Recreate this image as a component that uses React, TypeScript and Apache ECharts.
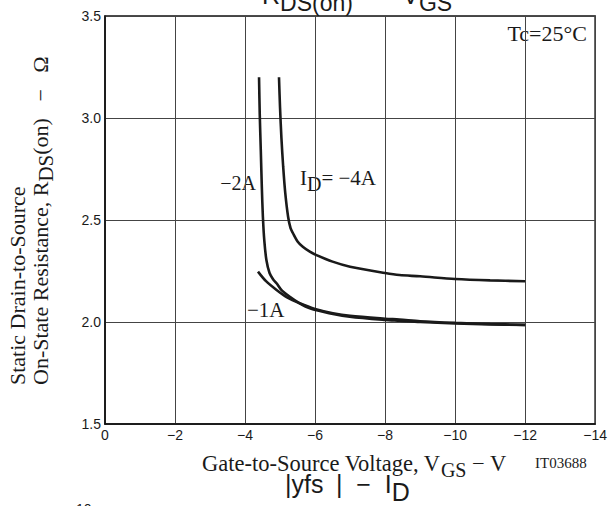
import React, { useEffect, useRef } from "react";
import * as echarts from "echarts";

const vgsTicks = [0, -2, -4, -6, -8, -10, -12, -14];
const rdsTicks = [1.5, 2.0, 2.5, 3.0, 3.5];

const vgs4A = [-4.97, -5.0, -5.04, -5.09, -5.15, -5.23, -5.3, -5.37, -5.5, -5.65, -5.85, -6.04, -6.5, -7.0, -8.0, -8.41, -9.0, -10.0, -11.0, -12.0];
const rds4A = [3.2, 3.05, 2.9, 2.76, 2.63, 2.516, 2.46, 2.435, 2.395, 2.369, 2.345, 2.328, 2.296, 2.271, 2.24, 2.23, 2.224, 2.211, 2.204, 2.2];

const vgs2A = [-4.4, -4.42, -4.45, -4.48, -4.51, -4.55, -4.61, -4.7, -4.8, -4.9, -5.05, -5.28, -5.55, -5.85, -6.4, -6.99, -8.0, -8.41, -9.0, -10.0, -11.0, -12.0];
const rds2A = [3.2, 3.02, 2.843, 2.66, 2.516, 2.4, 2.304, 2.24, 2.21, 2.19, 2.155, 2.124, 2.093, 2.067, 2.043, 2.026, 2.01, 2.006, 2.0, 1.993, 1.988, 1.985];

const vgs1A = [-4.37, -4.6, -4.9, -5.2, -5.56, -6.0, -6.51, -7.0, -8.0, -8.41, -9.0, -10.0, -11.0, -12.0];
const rds1A = [2.247, 2.2, 2.157, 2.121, 2.092, 2.064, 2.043, 2.03, 2.016, 2.012, 2.004, 1.996, 1.99, 1.986];

const curves = [
  { name: "ID=-4A", x: vgs4A, y: rds4A },
  { name: "ID=-2A", x: vgs2A, y: rds2A },
  { name: "ID=-1A", x: vgs1A, y: rds1A },
];

const SERIF = "'Liberation Serif', 'Times New Roman', serif";
const SANS = "'Liberation Sans', Arial, sans-serif";
const INK = "#1a1a1a";

const minus = (v: number) => (v === 0 ? "0" : v < 0 ? "\u2212" + Math.abs(v) : String(v));

// rich styles: main text top-aligned, subscript lowered by `drop` px
const richSub = (family: string, size: number, subSize: number, drop: number) => ({
  m: { fontFamily: family, fontSize: size, verticalAlign: "top", fill: INK },
  s: {
    fontFamily: family,
    fontSize: subSize,
    padding: [Math.max(0, drop - subSize / 2 + size / 2), 0, 0, 0],
    verticalAlign: "bottom",
    fill: INK,
  },
});

export default function App() {
  const ref = useRef<HTMLDivElement>(null);
  useEffect(() => {
    if (!ref.current) return;
    const chart = echarts.init(ref.current, null, { renderer: "svg" });
    chart.setOption({
      animation: false,
      backgroundColor: "#fff",
      grid: {
        left: 105,
        right: 14,
        top: 16,
        bottom: 82,
        show: true,
        borderColor: "#111",
        borderWidth: 1.5,
        backgroundColor: "transparent",
      },
      xAxis: {
        type: "value",
        min: -14,
        max: 0,
        interval: 2,
        inverse: true,
        axisLine: { show: true, lineStyle: { color: "#111", width: 1.5 } },
        axisTick: { show: false },
        splitLine: { show: true, lineStyle: { color: "#444", width: 1 } },
        axisLabel: {
          color: INK,
          fontFamily: SANS,
          fontSize: 14,
          margin: 4,
          showMinLabel: true,
          showMaxLabel: true,
          formatter: (v: number) => (vgsTicks.includes(v) ? minus(v) : ""),
        },
      },
      yAxis: {
        type: "value",
        min: 1.5,
        max: 3.5,
        interval: 0.5,
        axisLine: { show: true, lineStyle: { color: "#111", width: 1.5 } },
        axisTick: { show: false },
        splitLine: { show: true, lineStyle: { color: "#444", width: 1 } },
        axisLabel: {
          color: INK,
          fontFamily: SANS,
          fontSize: 14,
          margin: 4,
          showMinLabel: true,
          showMaxLabel: true,
          formatter: (v: number) => (rdsTicks.some((t) => Math.abs(t - v) < 1e-6) ? v.toFixed(1) : ""),
        },
      },
      series: curves.map((c) => ({
        name: c.name,
        type: "line",
        data: c.x.map((x, i) => [x, c.y[i]]),
        showSymbol: false,
        smooth: 0.3,
        lineStyle: { color: INK, width: 2.6 },
        z: 5,
      })),
      graphic: [
        {
          type: "text",
          x: 262,
          y: -18,
          style: {
            text: "{m|R}{s|DS(on)}{m|  \u2212   V}{s|GS}",
            align: "left",
            verticalAlign: "top",
            rich: richSub(SANS, 25, 23, 8),
          },
        },
        {
          type: "text",
          x: 17,
          y: 385,
          rotation: Math.PI / 2,
          style: {
            text: "Static Drain-to-Source",
            fontFamily: SERIF,
            fontSize: 22,
            fill: INK,
            align: "left",
            verticalAlign: "middle",
          },
        },
        {
          type: "text",
          x: 29,
          y: 385,
          rotation: Math.PI / 2,
          style: {
            text: "{m|On-State Resistance, R}{s|DS}{m|(on)   \u2212   \u03a9}",
            align: "left",
            verticalAlign: "top",
            rich: richSub(SERIF, 22, 21, 6),
          },
        },
        {
          type: "text",
          x: 202,
          y: 452,
          style: {
            text: "{m|Gate-to-Source Voltage, V}{s|GS}{m| \u2212 V}",
            align: "left",
            verticalAlign: "top",
            rich: richSub(SERIF, 22.5, 20, 7),
          },
        },
        {
          type: "text",
          x: 535,
          y: 463,
          style: { text: "IT03688", fontFamily: SERIF, fontSize: 15, fill: INK, align: "left", verticalAlign: "middle" },
        },
        {
          type: "text",
          x: 285,
          y: 471,
          style: {
            text: "{m||yfs\u2002|  \u2212  I}{s|D}",
            align: "left",
            verticalAlign: "top",
            rich: richSub(SANS, 25, 25, 8),
          },
        },
        {
          type: "text",
          x: 76,
          y: 502,
          style: { text: "10", fontFamily: SANS, fontSize: 14, fill: INK, align: "left", verticalAlign: "top" },
        },
        {
          type: "text",
          x: 587,
          y: 33,
          style: { text: "Tc=25\u00b0C", fontFamily: SERIF, fontSize: 22, fill: INK, align: "right", verticalAlign: "middle" },
        },
        {
          type: "text",
          x: 256,
          y: 183,
          style: { text: "\u22122A", fontFamily: SERIF, fontSize: 20, fill: INK, align: "right", verticalAlign: "middle" },
        },
        {
          type: "text",
          x: 300,
          y: 167,
          style: {
            text: "{m|I}{s|D}{m|= \u22124A}",
            align: "left",
            verticalAlign: "top",
            rich: richSub(SERIF, 21, 20, 6),
          },
        },
        {
          type: "text",
          x: 247,
          y: 310,
          style: { text: "\u22121A", fontFamily: SERIF, fontSize: 21, fill: INK, align: "left", verticalAlign: "middle" },
        },
      ],
    });
    return () => chart.dispose();
  }, []);
  return <div ref={ref} style={{ width: 610, height: 506, position: "absolute", left: 0, top: 0 }} />;
}
